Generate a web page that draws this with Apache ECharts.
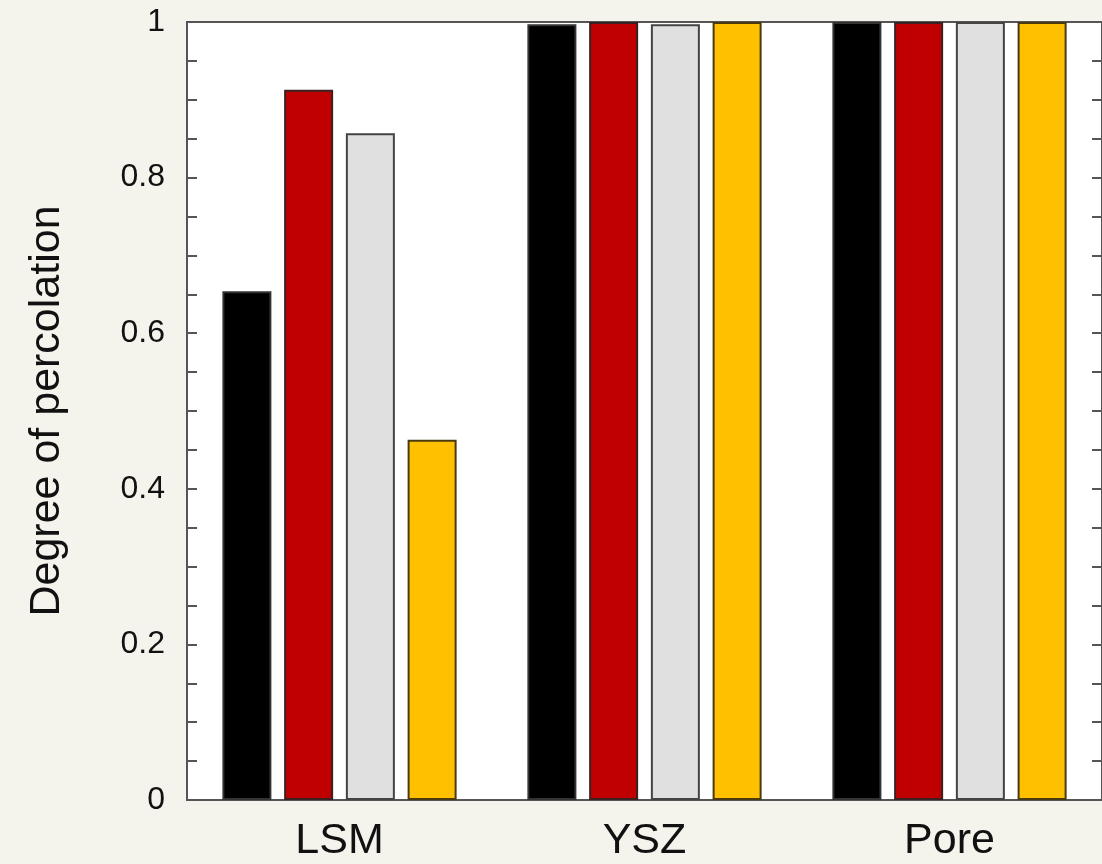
<!DOCTYPE html>
<html><head><meta charset="utf-8">
<script src="https://cdn.jsdelivr.net/npm/echarts@6/dist/echarts.min.js"></script>
<style>html,body{margin:0;padding:0;background:#f4f3ec;}#c{width:1102px;height:864px;}</style>
</head><body><div id="c"></div>
<script>
const categories = ['LSM', 'YSZ', 'Pore'];
const seriesBlack = [0.654, 0.997, 1.0];
const seriesRed = [0.913, 1.0, 1.0];
const seriesGray = [0.857, 0.997, 1.0];
const seriesGold = [0.463, 1.0, 1.0];
const yTicks = [0, 0.2, 0.4, 0.6, 0.8, 1];

const colors = ['#000000', '#c00000', '#e0e0e0', '#ffc000'];
const borders = ['#333333', '#3a2020', '#444444', '#4a3a10'];
const chart = echarts.init(document.getElementById('c'));
const font = 'Liberation Sans, Arial, sans-serif';
function bar(data, i) {
  return {
    type: 'bar', data: data, barWidth: 49, barGap: '26%',
    itemStyle: { color: colors[i], borderColor: borders[i], borderWidth: 2 },
    yAxisIndex: 0
  };
}
chart.setOption({
  backgroundColor: '#f4f3ec',
  animation: false,
  grid: { left: 187, right: 0, top: 22, bottom: 64, show: true, backgroundColor: '#ffffff', borderColor: '#555', borderWidth: 2 },
  xAxis: {
    type: 'category', data: categories,
    axisLine: { lineStyle: { color: '#555', width: 2 } },
    axisTick: { show: false },
    axisLabel: { fontSize: 43, color: '#111', fontFamily: font, margin: 20 }
  },
  yAxis: [{
    type: 'value', min: 0, max: 1, interval: 0.2,
    name: 'Degree of percolation', nameLocation: 'middle', nameGap: 118, nameRotate: 90,
    nameTextStyle: { fontSize: 43, color: '#111', fontFamily: font },
    axisLine: { show: true, lineStyle: { color: '#555', width: 2 } },
    axisTick: { show: true, inside: true, length: 10, lineStyle: { color: '#555', width: 2 } },
    minorTick: { show: true, splitNumber: 4, length: 10, lineStyle: { color: '#555', width: 2 } },
    splitLine: { show: false },
    axisLabel: { fontSize: 32, color: '#111', fontFamily: font, margin: 22,
      formatter: v => yTicks.includes(Math.round(v * 10) / 10) ? String(Math.round(v * 10) / 10) : '' }
  }, {
    type: 'value', min: 0, max: 1, interval: 0.2, position: 'right',
    axisLine: { show: true, lineStyle: { color: '#555', width: 2 } },
    axisTick: { show: true, inside: true, length: 10, lineStyle: { color: '#555', width: 2 } },
    minorTick: { show: true, splitNumber: 4, length: 10, lineStyle: { color: '#555', width: 2 } },
    splitLine: { show: false },
    axisLabel: { show: false }
  }],
  series: [bar(seriesBlack, 0), bar(seriesRed, 1), bar(seriesGray, 2), bar(seriesGold, 3)]
});
</script></body></html>
